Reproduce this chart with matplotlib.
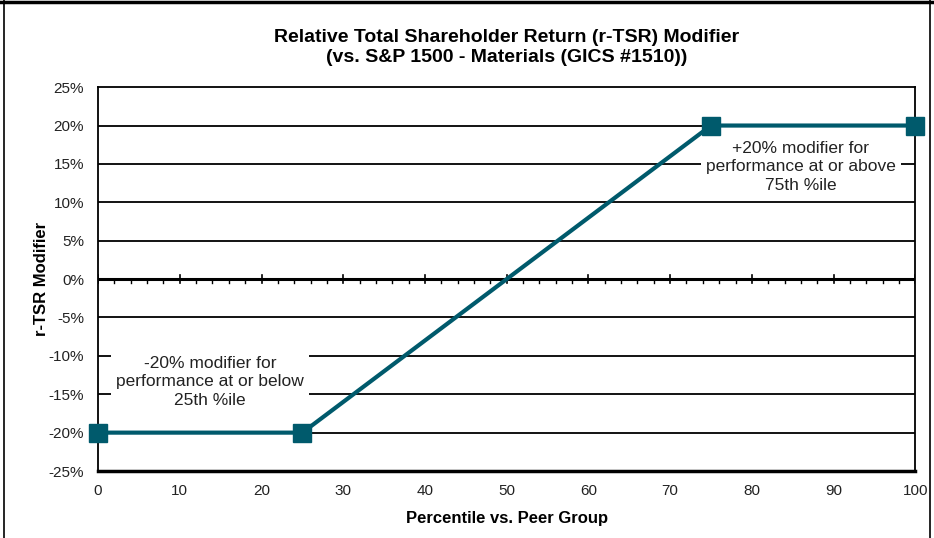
import matplotlib
matplotlib.use("Agg")
import matplotlib.pyplot as plt
from matplotlib.lines import Line2D
from matplotlib.ticker import FuncFormatter

plt.rcParams['font.family'] = ['Liberation Sans', 'DejaVu Sans']

percentile = [0, 25, 75, 100]
modifier = [-20, -20, 20, 20]
yticks = [-25, -20, -15, -10, -5, 0, 5, 10, 15, 20, 25]
xticks = [0, 10, 20, 30, 40, 50, 60, 70, 80, 90, 100]
title = "Relative Total Shareholder Return (r-TSR) Modifier\n(vs. S&P 1500 - Materials (GICS #1510))"
note_low = "-20% modifier for\nperformance at or below\n25th %ile"
note_high = "+20% modifier for\nperformance at or above\n75th %ile"

color = "#005a6c"

fig = plt.figure(figsize=(9.34, 5.38), dpi=100)
ax = fig.add_axes([0.105, 0.1245, 0.875, 0.7135])

ax.set_xlim(0, 100)
ax.set_ylim(-25, 25)
ax.set_yticks(yticks)
ax.set_xticks(xticks)
ax.yaxis.set_major_formatter(FuncFormatter(lambda v, p: f"{v:.0f}%"))
for y in yticks[1:-1]:
    if y != 0:
        ax.axhline(y, color="black", lw=1.3, zorder=1)
ax.axhline(0, color="black", lw=2.2, zorder=1)
# ticks on zero line
for x in range(0, 101, 2):
    if x % 10 == 0:
        ax.plot([x, x], [-0.5, 0.5], color="black", lw=1.2, zorder=1)
    else:
        ax.plot([x, x], [-0.45, 0], color="black", lw=1.0, zorder=1)

ax.plot(percentile, modifier, color=color, lw=3, marker="s", markersize=13,
        zorder=5, clip_on=False)

bbox = dict(boxstyle="square,pad=0.3", fc="white", ec="none")
ax.text(13.7, -13.4, note_low, ha="center", va="center", fontsize=12.5,
        color="#222222", bbox=bbox, zorder=3, linespacing=1.3)
ax.text(86.0, 14.6, note_high, ha="center", va="center", fontsize=12.5,
        color="#222222", bbox=bbox, zorder=3, linespacing=1.3)

ax.spines['top'].set_linewidth(1.3)
ax.spines['bottom'].set_linewidth(2.5)
ax.spines['left'].set_linewidth(1.3)
ax.spines['right'].set_linewidth(1.3)
ax.tick_params(axis='both', length=0, labelsize=11, labelcolor="#222222")
ax.tick_params(axis='x', pad=9)
ax.tick_params(axis='y', pad=10)

ax.set_title(title, fontsize=14, fontweight="bold", pad=18, linespacing=1.25)
ax.set_xlabel("Percentile vs. Peer Group", fontsize=12, fontweight="bold", labelpad=10)
ax.set_ylabel("r-TSR Modifier", fontsize=12, fontweight="bold", labelpad=0)

# figure border
fig.add_artist(Line2D([0.0045, 0.0045], [0, 1], transform=fig.transFigure, color="black", lw=1.2))
fig.add_artist(Line2D([0.9955, 0.9955], [0, 1], transform=fig.transFigure, color="black", lw=1.2))
fig.add_artist(Line2D([0, 1], [0.996, 0.996], transform=fig.transFigure, color="black", lw=2.5))

fig.savefig("out.png", dpi=100)
